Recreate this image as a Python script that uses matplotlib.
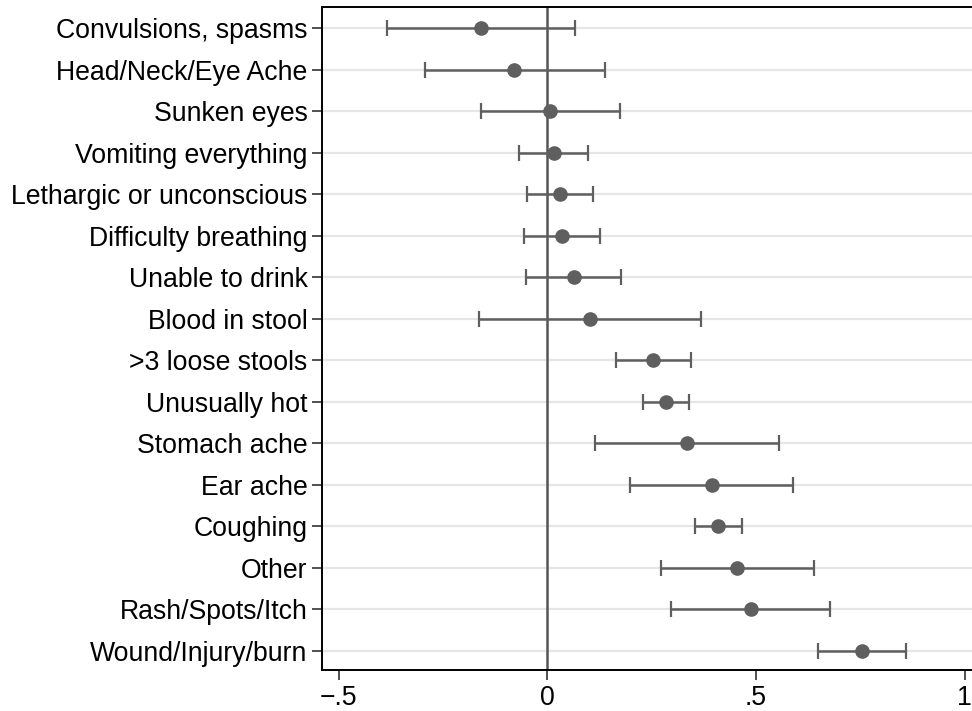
import matplotlib.pyplot as plt

plt.rcParams['font.family'] = ['Liberation Sans', 'DejaVu Sans']

# 症状及估计值（点估计与置信区间）
labels = ['Convulsions, spasms', 'Head/Neck/Eye Ache', 'Sunken eyes',
          'Vomiting everything', 'Lethargic or unconscious', 'Difficulty breathing',
          'Unable to drink', 'Blood in stool', '>3 loose stools', 'Unusually hot',
          'Stomach ache', 'Ear ache', 'Coughing', 'Other', 'Rash/Spots/Itch',
          'Wound/Injury/burn']
est = [-0.158, -0.079, 0.007, 0.015, 0.029, 0.036, 0.063, 0.102,
       0.254, 0.284, 0.334, 0.394, 0.409, 0.454, 0.487, 0.753]
lo = [-0.384, -0.294, -0.160, -0.069, -0.050, -0.055, -0.052, -0.165,
      0.165, 0.230, 0.114, 0.198, 0.353, 0.272, 0.295, 0.648]
hi = [0.066, 0.137, 0.173, 0.098, 0.109, 0.127, 0.177, 0.368,
      0.345, 0.339, 0.555, 0.589, 0.466, 0.638, 0.678, 0.859]
xticks = [-0.5, 0, 0.5, 1]
xticklabels = ['\u2212.5', '0', '.5', '1']

fig = plt.figure(figsize=(9.72, 7.11), dpi=100)
ax = fig.add_axes([0.3313, 0.0577, 0.675, 0.9325])

y = list(range(1, len(labels) + 1))
err = [[e - l for e, l in zip(est, lo)], [h - e for h, e in zip(hi, est)]]

for yy in y:
    ax.axhline(yy, color='#e6e6e6', lw=1.6, zorder=0)
ax.axvline(0, color='#555555', lw=1.8, zorder=1)

ax.errorbar(est, y, xerr=err, fmt='o', color='#5f5f5f', ecolor='#5f5f5f',
            elinewidth=1.8, capsize=6, capthick=1.6, markersize=9.5, zorder=3)

# 右边界在图外
ax.set_xlim(-0.54, 1.032)
ax.set_ylim(16.46, 0.49)
ax.set_yticks(y)
ax.set_yticklabels(labels, fontsize=19.2)
ax.set_xticks(xticks)
ax.set_xticklabels(xticklabels, fontsize=19.2)
ax.tick_params(axis='both', length=7.5, width=1.2, color='#333333')
ax.tick_params(axis='y', pad=3)
ax.tick_params(axis='x', pad=3)

for s in ax.spines.values():
    s.set_linewidth(1.4)
    s.set_color('black')
ax.spines['right'].set_visible(False)

plt.savefig('out.png', dpi=100)
